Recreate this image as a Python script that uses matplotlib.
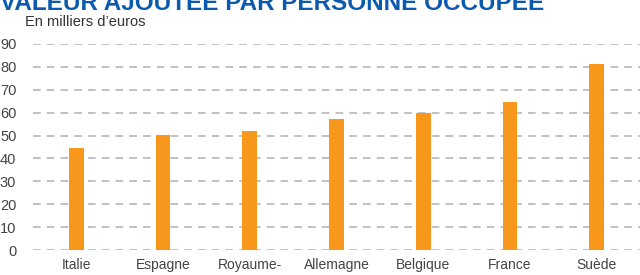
import matplotlib.pyplot as plt
import numpy as np

countries = ["Italie", "Espagne", "Royaume-\nUni", "Allemagne", "Belgique", "France", "Suède"]
values = [44.5, 50.2, 52.0, 57.2, 59.8, 64.6, 81.2]
yticks = [0, 10, 20, 30, 40, 50, 60, 70, 80, 90]

plt.rcParams["font.family"] = ["Liberation Sans", "DejaVu Sans"]

fig = plt.figure(figsize=(6.4, 2.75), dpi=100)
ax = fig.add_axes([33 / 640, 25 / 275, 607 / 640, 206 / 275])

x = np.arange(len(countries))
ax.bar(x, values, width=0.17, color="#F7981D", zorder=3)

ax.set_xlim(-0.5, len(countries) - 0.5)
ax.set_ylim(0, 90)
ax.set_yticks(yticks)
ax.set_xticks(x)
ax.set_xticklabels(countries, fontsize=10, color="#444444", va="top", linespacing=1.4)
ax.tick_params(axis="y", length=0, pad=12, labelsize=10.5, labelcolor="#444444")
ax.tick_params(axis="x", length=0, pad=6)
for lab in ax.get_yticklabels():
    lab.set_horizontalalignment("right")

ax.grid(axis="y", color="#b0b0b0", linestyle=(0, (5, 4)), linewidth=1.1, zorder=0)
for s in ax.spines.values():
    s.set_visible(False)

# titre coupé en haut, comme dans l'original
fig.text(0.0, 1 - 4 / 275, "VALEUR AJOUTÉE PAR PERSONNE OCCUPÉE", fontsize=17.5, fontweight="bold",
         color="#0B5AAE", ha="left", va="center")
fig.text(25 / 640, 1 - 22 / 275, "En milliers d\u2019euros", fontsize=10.5, color="#333333",
         ha="left", va="center")

fig.savefig("out.png", dpi=100)
